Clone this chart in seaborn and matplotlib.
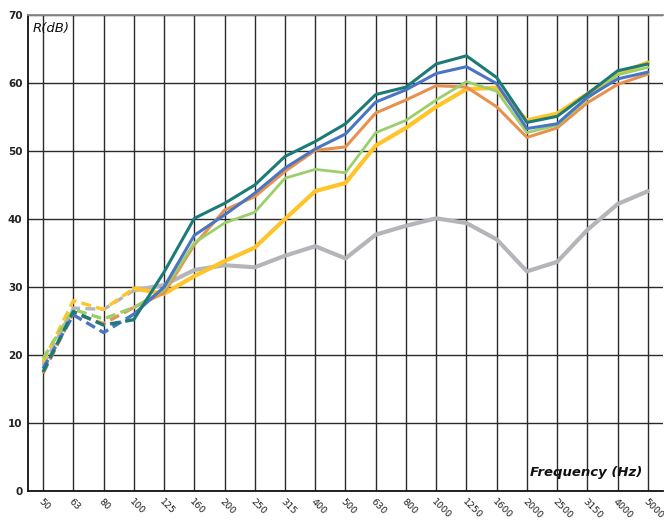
import matplotlib
matplotlib.use("Agg")
import matplotlib.pyplot as plt
import seaborn as sns
import pandas as pd

freqs = ["50", "63", "80", "100", "125", "160", "200", "250", "315", "400", "500",
         "630", "800", "1000", "1250", "1600", "2000", "2500", "3150", "4000", "5000"]

grey   = [18.5, 26.9, 26.7, 29.5, 30.3, 32.5, 33.2, 32.9, 34.6, 36.0, 34.2,
          37.7, 39.0, 40.1, 39.4, 37.0, 32.3, 33.7, 38.4, 42.2, 44.1]
yellow = [19.0, 28.0, 26.7, 29.8, 29.0, 31.6, 33.8, 35.8, 40.0, 44.1, 45.3,
          50.8, 53.4, 56.5, 59.1, 59.3, 54.5, 55.5, 58.4, 61.4, 63.0]
orange = [17.3, 26.2, 24.6, 27.0, 29.1, 36.2, 41.3, 43.3, 47.0, 50.1, 50.6,
          55.6, 57.5, 59.6, 59.4, 56.5, 52.0, 53.4, 57.1, 59.8, 61.3]
green  = [19.5, 26.7, 25.3, 27.0, 29.6, 36.5, 39.4, 41.0, 46.0, 47.3, 46.8,
          52.7, 54.5, 57.5, 60.2, 58.8, 52.7, 53.8, 57.7, 61.2, 62.3]
blue   = [18.0, 25.9, 23.3, 26.0, 30.0, 37.6, 40.6, 43.8, 47.5, 50.3, 52.5,
          57.2, 59.0, 61.4, 62.4, 59.9, 53.3, 54.0, 57.9, 60.6, 61.6]
teal   = [17.5, 26.4, 24.4, 25.2, 32.2, 40.1, 42.3, 45.0, 49.2, 51.4, 54.0,
          58.3, 59.4, 62.8, 64.0, 60.8, 54.2, 55.1, 58.4, 61.8, 62.8]

series_names = ["grey", "yellow", "orange", "green", "blue", "teal"]
series_vals = [grey, yellow, orange, green, blue, teal]
colors = {"grey": "#b3b5b9", "yellow": "#ffc42a", "orange": "#e8914f",
          "green": "#9bcf6b", "blue": "#4a75c2", "teal": "#1c7b79"}
widths = {"grey": 3.0, "yellow": 3.0, "orange": 2.2, "green": 2.0, "blue": 2.2, "teal": 2.2}

rows = []
for name, vals in zip(series_names, series_vals):
    for i, v in enumerate(vals):
        rows.append({"idx": i, "freq": freqs[i], "R": v, "series": name})
df = pd.DataFrame(rows)

sns.set_theme(style="white")
plt.rcParams["font.family"] = ["DejaVu Sans"]

fig = plt.figure(figsize=(6.64, 5.23), dpi=100)
ax = fig.add_axes([28 / 664, 32 / 523, 635 / 664, 476 / 523])

split = 3
for name in series_names:
    sub = df[df["series"] == name]
    dash_part = sub[sub["idx"] <= split]
    solid_part = sub[sub["idx"] >= split]
    sns.lineplot(data=solid_part, x="idx", y="R", color=colors[name],
                 linewidth=widths[name], ax=ax, legend=False, zorder=3)
    sns.lineplot(data=dash_part, x="idx", y="R", color=colors[name],
                 linewidth=2.4, ax=ax, legend=False, zorder=3,
                 dashes=False, linestyle=(0, (3.0, 1.6)))

ax.set_xlim(-0.5, len(freqs) - 0.5)
ax.set_ylim(0, 70)
ax.set_yticks(range(0, 71, 10))
ax.set_yticklabels([str(v) for v in range(0, 71, 10)], fontsize=7.5,
                   fontweight="semibold", color="#222222")
ax.set_xticks(range(len(freqs)))
ax.set_xticklabels(freqs, rotation=-45, ha="left", va="top", fontsize=6.8,
                   color="#222222", rotation_mode="anchor")
ax.tick_params(axis="both", length=0, pad=4)
ax.tick_params(axis="x", pad=4)

ax.grid(True, color="#2a2a2a", linewidth=1.0)
ax.set_axisbelow(True)
ax.set_xlabel("")
ax.set_ylabel("")

for side in ["left", "bottom"]:
    ax.spines[side].set_color("#111111")
    ax.spines[side].set_linewidth(1.3)
ax.spines["top"].set_color("#888888")
ax.spines["top"].set_linewidth(1.3)
ax.spines["right"].set_visible(False)

ax.text(0.008, 0.985, "R(dB)", transform=ax.transAxes, fontsize=9.5,
        fontstyle="italic", ha="left", va="top", color="#111111")
ax.text(0.968, 0.025, "Frequency (Hz)", transform=ax.transAxes, fontsize=9.5,
        fontstyle="italic", fontweight="semibold", ha="right", va="bottom",
        color="#111111")

fig.savefig("out.png", dpi=100, facecolor="white")
